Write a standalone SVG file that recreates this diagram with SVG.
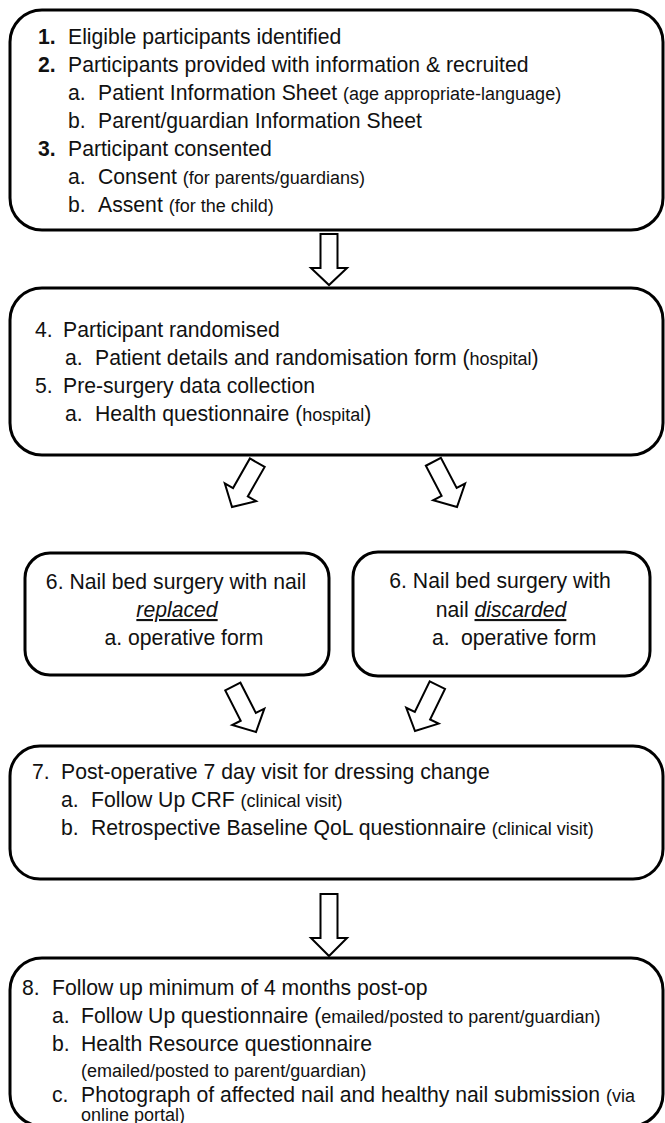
<svg xmlns="http://www.w3.org/2000/svg" xmlns:xlink="http://www.w3.org/1999/xlink" width="665" height="1123" viewBox="0 0 665 1123">
<style>
.box{fill:#fff;stroke:#000;stroke-width:3}
.arr{fill:#fff;stroke:#000;stroke-width:2;stroke-linejoin:miter}
text{font-family:"Liberation Sans",Arial,sans-serif;font-size:21.2px;fill:#111}
.s{font-size:18px}
.b{font-weight:bold}
.u{font-style:italic;text-decoration:underline}
</style>
<defs>
<path id="blk" d="M -8.5,-51 L 8.5,-51 L 8.5,-17 L 18,-17 L 0,0 L -18,-17 L -8.5,-17 Z"/>
<path id="blk2" d="M -8.5,-62 L 8.5,-62 L 8.5,-18 L 18,-18 L 0,0 L -18,-18 L -8.5,-18 Z"/>
</defs>
<rect width="665" height="1123" fill="#fff"/>

<g id="node1">
<rect class="box" x="10" y="10" width="653" height="220" rx="32" ry="32"/>
<text x="38" y="44"><tspan class="b">1.</tspan><tspan x="68">Eligible participants identified</tspan></text>
<text x="38" y="72"><tspan class="b">2.</tspan><tspan x="68">Participants provided with information &amp; recruited</tspan></text>
<text x="68" y="100">a.<tspan x="98">Patient Information Sheet </tspan><tspan class="s">(age appropriate-language)</tspan></text>
<text x="68" y="128">b.<tspan x="98">Parent/guardian Information Sheet</tspan></text>
<text x="38" y="156"><tspan class="b">3.</tspan><tspan x="68">Participant consented</tspan></text>
<text x="68" y="184">a.<tspan x="98">Consent </tspan><tspan class="s">(for parents/guardians)</tspan></text>
<text x="68" y="212">b.<tspan x="98">Assent </tspan><tspan class="s">(for the child)</tspan></text>
</g>

<g id="node2">
<rect class="box" x="10" y="288" width="653" height="167" rx="32" ry="32"/>
<text x="35" y="337">4.<tspan x="63">Participant randomised</tspan></text>
<text x="65" y="365">a.<tspan x="95">Patient details and randomisation form (</tspan><tspan class="s">hospital</tspan>)</text>
<text x="35" y="393">5.<tspan x="63">Pre-surgery data collection</tspan></text>
<text x="65" y="421">a.<tspan x="95">Health questionnaire (</tspan><tspan class="s">hospital</tspan>)</text>
</g>

<g id="node6a">
<rect class="box" x="25" y="553" width="304" height="122" rx="25" ry="25"/>
<text x="176" y="589" text-anchor="middle">6. Nail bed surgery with nail</text>
<text x="177" y="617" text-anchor="middle" class="u">replaced</text>
<text x="184" y="645" text-anchor="middle">a. operative form</text>
</g>

<g id="node6b">
<rect class="box" x="353" y="552" width="297" height="124" rx="25" ry="25"/>
<text x="500" y="588" text-anchor="middle">6. Nail bed surgery with</text>
<text x="501" y="617" text-anchor="middle">nail <tspan class="u">discarded</tspan></text>
<text x="432" y="645">a.<tspan x="461">operative form</tspan></text>
</g>

<g id="node7">
<rect class="box" x="10" y="746" width="653" height="133" rx="30" ry="30"/>
<text x="32" y="779">7.<tspan x="61">Post-operative 7 day visit for dressing change</tspan></text>
<text x="61" y="807">a.<tspan x="91">Follow Up CRF </tspan><tspan class="s">(clinical visit)</tspan></text>
<text x="61" y="835">b.<tspan x="91">Retrospective Baseline QoL questionnaire </tspan><tspan class="s">(clinical visit)</tspan></text>
</g>

<g id="node8">
<rect class="box" x="10" y="958" width="653" height="168" rx="32" ry="32"/>
<text x="22" y="995">8.<tspan x="52">Follow up minimum of 4 months post-op</tspan></text>
<text x="52" y="1023">a.<tspan x="81">Follow Up questionnaire (</tspan><tspan class="s">emailed/posted to parent/guardian)</tspan></text>
<text x="52" y="1051">b.<tspan x="81">Health Resource questionnaire</tspan></text>
<text x="81" y="1077" class="s">(emailed/posted to parent/guardian)</text>
<text x="52" y="1102">c.<tspan x="81">Photograph of affected nail and healthy nail submission </tspan><tspan class="s">(via</tspan></text>
<text x="81" y="1121" class="s">online portal)</text>
</g>

<g id="connectors">
<use xlink:href="#blk" class="arr" transform="translate(329,285)"/>
<use xlink:href="#blk" class="arr" transform="translate(232,507) rotate(29.7)"/>
<use xlink:href="#blk" class="arr" transform="translate(457,507) rotate(-27.6)"/>
<use xlink:href="#blk" class="arr" transform="translate(256,732) rotate(-27)"/>
<use xlink:href="#blk" class="arr" transform="translate(415,731) rotate(26)"/>
<use xlink:href="#blk2" class="arr" transform="translate(329,956)"/>
</g>
</svg>
